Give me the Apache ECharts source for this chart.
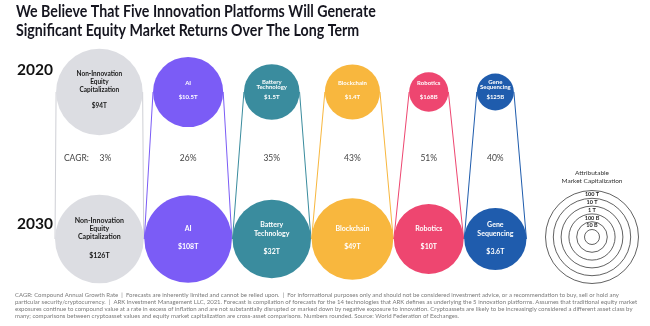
<!DOCTYPE html>
<html><head><meta charset="utf-8">
<script src="https://cdn.jsdelivr.net/npm/echarts@6/dist/echarts.min.js"></script>
<style>html,body{margin:0;padding:0;background:#fff}#c{width:650px;height:326px}</style>
</head><body><div id="c"></div>
<script>
// ---- data ----
const platforms = ['Non-Innovation\nEquity\nCapitalization', 'AI', 'Battery\nTechnology', 'Blockchain', 'Robotics', 'Gene\nSequencing'];
const cap2020 = [94, 10.5, 1.5, 1.4, 0.168, 0.125];   // $ trillions
const cap2030 = [126, 108, 32, 49, 10, 3.6];          // $ trillions
const label2020 = ['$94T', '$10.5T', '$1.5T', '$1.4T', '$168B', '$125B'];
const label2030 = ['$126T', '$108T', '$32T', '$49T', '$10T', '$3.6T'];
const cagr = ['3%', '26%', '35%', '43%', '51%', '40%'];
const years = ['2020', '2030'];
const legendTicks = ['100 T', '10 T', '1 T', '100 B', '10 B'];
const legendValues = [100, 10, 1, 0.1, 0.01, 0.001];  // $ trillions
const footnote = [
  'CAGR: Compound Annual Growth Rate  |  Forecasts are inherently limited and cannot be relied upon.  |  For informational purposes only and should not be considered investment advice, or a recommendation to buy, sell or hold any',
  'particular security/cryptocurrency.  |  ARK Investment Management LLC, 2021. Forecast is compilation of forecasts for the 14 technologies that ARK defines as underlying the 5 innovation platforms. Assumes that traditional equity market',
  'exposures continue to compound value at a rate in excess of inflation and are not substantially disrupted or marked down by negative exposure to innovation. Cryptoassets are likely to be increasingly considered a different asset class by',
  'many; comparisons between cryptoasset values and equity market capitalization are cross-asset comparisons. Numbers rounded. Source: World Federation of Exchanges.'
];

// ---- styles ----
const fills = ['#dcdde2', '#7b5cf6', '#3a8c9e', '#f8b73e', '#ee4670', '#1f5cad'];
const strokes = ['#cfd0d6', '#7b5cf6', '#3a8c9e', '#f8b73e', '#ee4670', '#1f5cad'];
const FONT = 'Lato, "Open Sans", sans-serif';

// log-scaled radius (px) for a market cap in $T
function radius(v) { return 43.5 + 8.6 * Math.log10(v / 100); }
function legendRadius(v) { return 46.5 + 7.8 * Math.log10(v / 100); }

// pack the 2030 circles side by side along the x axis (axis units = px)
const startX = 55;
const centers = [];
cap2030.forEach((v, i) => {
  if (i === 0) centers.push(startX + radius(v));
  else centers.push(centers[i - 1] + radius(cap2030[i - 1]) + radius(v) + 0.6);
});

function circleText(x, y, name, value, fs, lh, gap, color) {
  const lines = name.split('\n');
  const n = lines.length + 1;
  const total = (n - 1) * lh + gap;
  const top = y - total / 2;
  const out = [];
  lines.forEach((t, k) => out.push({type: 'text', style: {x: x, y: top + k * lh, text: t, fill: color, fontSize: fs, fontWeight: 'bold', fontFamily: FONT, align: 'center', verticalAlign: 'middle'}}));
  out.push({type: 'text', style: {x: x, y: top + (n - 1) * lh + gap, text: value, fill: color, fontSize: fs, fontWeight: 'bold', fontFamily: FONT, align: 'center', verticalAlign: 'middle'}});
  return out;
}

function renderItem(params, api) {
  const i = api.value(0);
  const p20 = api.coord([centers[i], 0]);
  const p30 = api.coord([centers[i], 1]);
  const r20 = radius(cap2020[i]), r30 = radius(cap2030[i]);
  const tc = i === 0 ? '#1a1a1a' : '#ffffff';
  const ch = [
    {type: 'line', shape: {x1: p20[0] - r20, y1: p20[1], x2: p30[0] - r30, y2: p30[1]}, style: {stroke: strokes[i], lineWidth: 1}},
    {type: 'line', shape: {x1: p20[0] + r20, y1: p20[1], x2: p30[0] + r30, y2: p30[1]}, style: {stroke: strokes[i], lineWidth: 1}},
    {type: 'circle', shape: {cx: p20[0], cy: p20[1], r: r20}, style: {fill: fills[i]}},
    {type: 'circle', shape: {cx: p30[0], cy: p30[1], r: r30}, style: {fill: fills[i]}}
  ];
  const nLines = platforms[i].split('\n').length;
  const lh20 = i === 0 ? 7.8 : (nLines > 1 ? 5 : 7);
  circleText(p20[0], p20[1] - 2, platforms[i], label2020[i], i === 0 ? 6.5 : 6, lh20, lh20, tc).forEach(e => ch.push(e));
  circleText(p30[0], p30[1] - 1, platforms[i], label2030[i], 7, i === 0 ? 8 : 9, i === 0 ? 11 : 9, tc).forEach(e => ch.push(e));
  const yc = p20[1] + (p30[1] - p20[1]) * 0.45;
  ch.push({type: 'text', style: {x: p20[0] + (i === 0 ? 6 : 0), y: yc, text: cagr[i], fill: '#444', fontSize: 8.5, fontFamily: FONT, align: 'center', verticalAlign: 'middle'}});
  if (i === 0) {
    ch.push({type: 'text', style: {x: p20[0] - 23, y: yc, text: 'CAGR:', fill: '#444', fontSize: 8.5, fontFamily: FONT, align: 'center', verticalAlign: 'middle'}});
    ch.push({type: 'text', style: {x: 17, y: p20[1] - 22, text: years[0], fill: '#111', fontSize: 15.5, fontWeight: 'bold', fontFamily: FONT, align: 'left', verticalAlign: 'middle'}});
    ch.push({type: 'text', style: {x: 17, y: p30[1] - 15, text: years[1], fill: '#111', fontSize: 15.5, fontWeight: 'bold', fontFamily: FONT, align: 'left', verticalAlign: 'middle'}});
  }
  return {type: 'group', children: ch};
}

// legend (attributable market capitalization rings)
const LCX = 592, LCY = 237;
const legendEls = [
  {type: 'text', style: {x: LCX, y: 173, text: 'Attributable', fill: '#333', fontSize: 6.5, fontFamily: FONT, align: 'center', verticalAlign: 'middle'}},
  {type: 'text', style: {x: LCX, y: 180.5, text: 'Market Capitalization', fill: '#333', fontSize: 6.5, fontFamily: FONT, align: 'center', verticalAlign: 'middle'}}
];
legendValues.forEach((v, k) => {
  legendEls.push({type: 'circle', shape: {cx: LCX, cy: LCY, r: legendRadius(v)}, style: {fill: 'none', stroke: '#3a3a3a', lineWidth: 0.8}});
});
legendTicks.forEach((t, k) => {
  const ry = LCY - (legendRadius(legendValues[k]) + legendRadius(legendValues[k + 1])) / 2;
  legendEls.push({type: 'text', style: {x: LCX, y: ry, text: t, fill: '#222', fontSize: 5.5, fontWeight: 'bold', fontFamily: FONT, align: 'center', verticalAlign: 'middle'}});
});

const TITLE_FONT = 'Lato, sans-serif';
const titleEls = [
  {type: 'text', x: 16, y: 3, scaleX: 0.835, style: {text: 'We Believe That Five Innovation Platforms Will Generate', fill: '#15151f', fontSize: 17, fontWeight: 'bold', fontFamily: TITLE_FONT}},
  {type: 'text', x: 16, y: 22, scaleX: 0.835, style: {text: 'Significant Equity Market Returns Over The Long Term', fill: '#15151f', fontSize: 17, fontWeight: 'bold', fontFamily: TITLE_FONT}}
];
const footEls = footnote.map((t, k) => ({type: 'text', left: 15, top: 292 + k * 7, style: {text: t, fill: '#7a7a7a', fontSize: 6, fontFamily: FONT}}));

const chart = echarts.init(document.getElementById('c'), null, {renderer: 'canvas'});
chart.setOption({
  animation: false,
  backgroundColor: '#ffffff',
  grid: {left: 0, right: 0, top: 92, bottom: 87},
  xAxis: {type: 'value', min: 0, max: 650, show: false},
  yAxis: {type: 'category', data: years, inverse: true, boundaryGap: false, show: false},
  series: [{
    type: 'custom',
    renderItem: renderItem,
    data: platforms.map((p, i) => [i]),
    silent: true,
    clip: false
  }],
  graphic: [].concat(titleEls, legendEls, footEls)
});
</script>
</body></html>
